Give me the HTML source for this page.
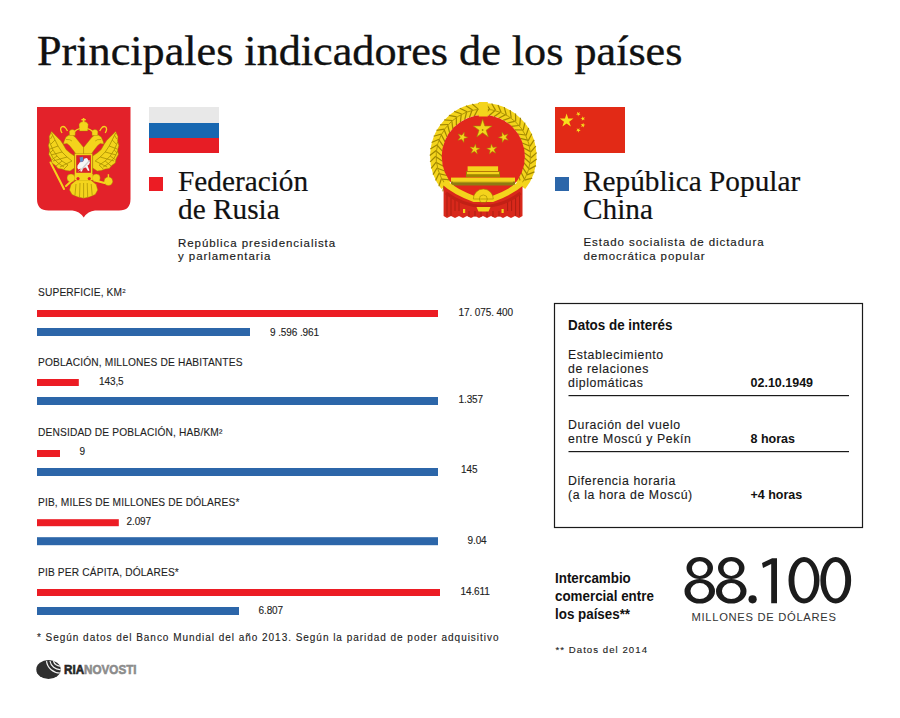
<!DOCTYPE html>
<html><head><meta charset="utf-8"><style>
html,body{margin:0;padding:0;background:#fff;}
body{width:900px;height:718px;position:relative;overflow:hidden;}
.t{position:absolute;white-space:nowrap;}
sup{font-size:60%;vertical-align:0;position:relative;top:-0.45em;}
</style></head><body>
<svg width="900" height="718" viewBox="0 0 900 718" style="position:absolute;left:0;top:0">
<rect x="149" y="107" width="70" height="16" fill="#e8e8e8"/>
<rect x="149" y="123" width="70" height="15" fill="#1767b1"/>
<rect x="149" y="138" width="70" height="15" fill="#e71d25"/>
<rect x="555" y="107" width="70" height="46" fill="#e22a16"/>
<polygon points="566.60,113.60 568.22,118.57 573.45,118.58 569.22,121.65 570.83,126.62 566.60,123.55 562.37,126.62 563.98,121.65 559.75,118.58 564.98,118.57" fill="#f7e01c"/>
<polygon points="577.05,111.73 578.40,112.95 579.97,112.04 579.23,113.70 580.58,114.92 578.78,114.73 578.04,116.39 577.66,114.61 575.85,114.42 577.43,113.51" fill="#f7e01c"/>
<polygon points="582.47,116.14 583.32,117.74 585.11,117.43 583.85,118.73 584.70,120.34 583.07,119.54 581.80,120.85 582.06,119.05 580.42,118.25 582.21,117.94" fill="#f7e01c"/>
<polygon points="583.33,122.74 583.59,124.54 585.38,124.85 583.74,125.65 584.00,127.45 582.73,126.14 581.10,126.94 581.95,125.33 580.69,124.03 582.48,124.34" fill="#f7e01c"/>
<polygon points="579.55,128.03 579.17,129.81 580.75,130.72 578.94,130.91 578.56,132.69 577.82,131.03 576.02,131.22 577.37,130.00 576.63,128.34 578.20,129.25" fill="#f7e01c"/>
<rect x="149" y="177" width="14" height="14" fill="#ec1c24"/>
<rect x="555" y="177" width="14" height="14" fill="#2c66a9"/>

<path d="M37,107 H130.5 V199 Q130.5,210.5 119,210.5 H95 Q88,211 83.7,217.5 Q79.4,211 72.4,210.5 H48.5 Q37,210.5 37,199 Z" fill="#e3222a"/>
<g fill="#f4d41c" stroke="#a08600" stroke-width="0.5">
<path d="M74.5,168 L70,171 L66,170.5 L62,169 L58,168.5 L55.5,165.5 L52,163 L51,158.5 L48.8,154.5 L49.6,150 L48.4,145.5 L49.6,141 L49.2,136.5 L51.6,131.5 L54.5,134.5 L57.5,137.5 L60.5,140.5 L63.2,144.5 L66,149.5 L70,153 L74.5,156 Z"/><path d="M 92.70 168.00 L 97.20 171.00 L 101.20 170.50 L 105.20 169.00 L 109.20 168.50 L 111.70 165.50 L 115.20 163.00 L 116.20 158.50 L 118.40 154.50 L 117.60 150.00 L 118.80 145.50 L 117.60 141.00 L 118.00 136.50 L 115.60 131.50 L 112.70 134.50 L 109.70 137.50 L 106.70 140.50 L 104.00 144.50 L 101.20 149.50 L 97.20 153.00 L 92.70 156.00 Z"/>
</g>
<g fill="none" stroke="#a08600" stroke-width="0.8" opacity="0.9">
<path d="M51.5,133 L55,140 L58,146 L62,152 L67,157 L72,161 M49.5,142 L53,150 L57,156 L62,161 L68,165 M49.5,151 L53,158 L58,163 L64,167 M52.5,135.5 L50.5,139 M55,140 L51,144 M58,146 L50,149 M62,152 L51,155 M67,157 L53,161 M72,161 L60,167 M53,150 L50,153 M57,156 L51.5,160 M62,161 L56,166 M68,165 L64,169"/><path d="M 115.70 133.00 L 112.20 140.00 L 109.20 146.00 L 105.20 152.00 L 100.20 157.00 L 95.20 161.00 M 117.70 142.00 L 114.20 150.00 L 110.20 156.00 L 105.20 161.00 L 99.20 165.00 M 117.70 151.00 L 114.20 158.00 L 109.20 163.00 L 103.20 167.00 M 114.70 135.50 L 116.70 139.00 M 112.20 140.00 L 116.20 144.00 M 109.20 146.00 L 117.20 149.00 M 105.20 152.00 L 116.20 155.00 M 100.20 157.00 L 114.20 161.00 M 95.20 161.00 L 107.20 167.00 M 114.20 150.00 L 117.20 153.00 M 110.20 156.00 L 115.70 160.00 M 105.20 161.00 L 111.20 166.00 M 99.20 165.00 L 103.20 169.00"/>
</g>
<g fill="#f4d41c" stroke="#a08600" stroke-width="0.4">
<path d="M64,141.5 L66,137 L69,135 L72.5,135 L75.5,137.5 L83.6,147.5 L83.6,157 L78,157 L73.5,150.5 L69.5,145.5 L67,143.5 L63.5,144 Z"/><path d="M 103.20 141.50 L 101.20 137.00 L 98.20 135.00 L 94.70 135.00 L 91.70 137.50 L 83.60 147.50 L 83.60 157.00 L 89.20 157.00 L 93.70 150.50 L 97.70 145.50 L 100.20 143.50 L 103.70 144.00 Z"/>
</g>
<g fill="none" stroke="#a08600" stroke-width="0.6"><path d="M66,139.5 Q70,139 72,141"/><path d="M 101.20 139.50 Q 97.20 139.00 95.20 141.00"/></g>
<g fill="#f4d41c" stroke="#a08600" stroke-width="0.4">

<path d="M78,158 Q83.6,150 89.2,158 L89.2,176 L78,176 Z"/>
<path d="M76.5,180 L71,184.5 L69.5,190 L72,194.5 L78,197 L83.6,198.2 L89.2,197 L95.2,194.5 L97.7,190 L96.2,184.5 L90.7,180 Z"/>
<circle cx="71" cy="178" r="4"/><circle cx="96.2" cy="178" r="4"/>
<path d="M79.5,131 L79,124.5 Q80,121.5 83.6,121.5 Q87.2,121.5 88.2,124.5 L87.7,131 Z"/>
<path d="M69.5,135.5 L69.3,131.5 Q70,129.5 72.3,129.5 Q74.6,129.5 75.3,131.5 L75.1,135.5 Z"/><path d="M 97.70 135.50 L 97.90 131.50 Q 97.20 129.50 94.90 129.50 Q 92.60 129.50 91.90 131.50 L 92.10 135.50 Z"/>
<circle cx="108.4" cy="181.2" r="4.3"/>
</g>
<rect x="82.8" y="118" width="1.6" height="4.5" fill="#f4d41c"/>
<rect x="81.4" y="119" width="4.4" height="1.4" fill="#f4d41c"/>
<rect x="107.7" y="174.2" width="1.4" height="3.5" fill="#f4d41c"/>
<g fill="none" stroke="#f4d41c" stroke-width="1.3">
<path d="M62,133 Q59.5,129 61.5,127 Q64,125.5 66,128.5 L67.5,131"/><path d="M 105.20 133.00 Q 107.70 129.00 105.70 127.00 Q 103.20 125.50 101.20 128.50 L 99.70 131.00"/>
<path d="M79.8,128.5 Q76.5,129.5 74.5,131.5"/><path d="M 87.40 128.50 Q 90.70 129.50 92.70 131.50"/>
</g>
<g stroke="#f4d41c" stroke-width="2" stroke-linecap="round">
<line x1="50.5" y1="162.5" x2="64" y2="189"/>
<line x1="66" y1="186" x2="71.5" y2="181"/>
<line x1="97" y1="181" x2="104.5" y2="183"/>
</g>
<g fill="none" stroke="#a08600" stroke-width="0.7" opacity="0.9">
<path d="M76,184 L75,195 M80,183 L79.5,197 M83.6,183 L83.6,198 M87.2,183 L87.7,197 M91.2,184 L92.2,195"/>
</g>
<rect x="74.7" y="153.6" width="17.7" height="20.8" fill="#f4d41c" stroke="#a08600" stroke-width="0.4"/>
<rect x="76.2" y="155.2" width="14.7" height="17.6" fill="#d9232a"/>
<path d="M77.5,165.5 L80,162 L83,161.5 L84.5,158.5 L87,158 L88.5,160.5 L90,162 L89,164.5 L87.5,165.5 L89.5,170.5 L88,171 L86,167.5 L83,168 L82,171.5 L80.5,171.5 L80.5,168.5 L78.5,169.5 L77.3,168 Z" fill="#f6f6f6"/>
<path d="M79.5,157.5 L83,156.8 L83.5,161 L80.5,162.5 Z" fill="#5b8fd0"/>
<path d="M77.5,172 L82,168 L89,160 L90,160.8 L83,169 Z" fill="#cfcfcf"/>
<rect x="74.7" y="174" width="18" height="6" fill="#f4d41c"/>
<circle cx="78" cy="178.6" r="1.6" fill="#e3222a"/><circle cx="89.3" cy="178.6" r="1.6" fill="#e3222a"/>
<path d="M446.11,185.36 A47.2,47.2 0 1,1 520.49,185.36" fill="none" stroke="#f4d41c" stroke-width="12"/>
<line x1="449.7" y1="179.8" x2="442.2" y2="179.1" stroke="#a08600" stroke-width="1.2"/>
<line x1="444.4" y1="183.5" x2="442.9" y2="191.4" stroke="#a08600" stroke-width="1.2"/>
<line x1="447.1" y1="175.5" x2="439.7" y2="173.9" stroke="#a08600" stroke-width="1.2"/>
<line x1="441.4" y1="178.6" x2="438.9" y2="186.2" stroke="#a08600" stroke-width="1.2"/>
<line x1="445.0" y1="171.0" x2="437.9" y2="168.5" stroke="#a08600" stroke-width="1.2"/>
<line x1="439.0" y1="173.3" x2="435.6" y2="180.6" stroke="#a08600" stroke-width="1.2"/>
<line x1="443.5" y1="166.2" x2="436.8" y2="162.8" stroke="#a08600" stroke-width="1.2"/>
<line x1="437.2" y1="167.8" x2="433.0" y2="174.6" stroke="#a08600" stroke-width="1.2"/>
<line x1="442.6" y1="161.3" x2="436.3" y2="157.1" stroke="#a08600" stroke-width="1.2"/>
<line x1="436.2" y1="162.1" x2="431.2" y2="168.3" stroke="#a08600" stroke-width="1.2"/>
<line x1="442.3" y1="156.3" x2="436.6" y2="151.4" stroke="#a08600" stroke-width="1.2"/>
<line x1="435.8" y1="156.3" x2="430.1" y2="161.9" stroke="#a08600" stroke-width="1.2"/>
<line x1="442.6" y1="151.3" x2="437.5" y2="145.7" stroke="#a08600" stroke-width="1.2"/>
<line x1="436.2" y1="150.5" x2="429.8" y2="155.4" stroke="#a08600" stroke-width="1.2"/>
<line x1="443.5" y1="146.4" x2="439.1" y2="140.2" stroke="#a08600" stroke-width="1.2"/>
<line x1="437.2" y1="144.8" x2="430.3" y2="148.9" stroke="#a08600" stroke-width="1.2"/>
<line x1="445.0" y1="141.6" x2="441.4" y2="135.0" stroke="#a08600" stroke-width="1.2"/>
<line x1="439.0" y1="139.3" x2="431.6" y2="142.5" stroke="#a08600" stroke-width="1.2"/>
<line x1="447.1" y1="137.1" x2="444.3" y2="130.0" stroke="#a08600" stroke-width="1.2"/>
<line x1="441.4" y1="134.0" x2="433.7" y2="136.3" stroke="#a08600" stroke-width="1.2"/>
<line x1="449.7" y1="132.8" x2="447.8" y2="125.5" stroke="#a08600" stroke-width="1.2"/>
<line x1="444.4" y1="129.1" x2="436.5" y2="130.4" stroke="#a08600" stroke-width="1.2"/>
<line x1="452.8" y1="128.9" x2="451.9" y2="121.4" stroke="#a08600" stroke-width="1.2"/>
<line x1="448.0" y1="124.5" x2="440.0" y2="124.9" stroke="#a08600" stroke-width="1.2"/>
<line x1="456.4" y1="125.4" x2="456.3" y2="117.8" stroke="#a08600" stroke-width="1.2"/>
<line x1="452.1" y1="120.5" x2="444.2" y2="119.8" stroke="#a08600" stroke-width="1.2"/>
<line x1="460.4" y1="122.3" x2="461.2" y2="114.8" stroke="#a08600" stroke-width="1.2"/>
<line x1="456.7" y1="116.9" x2="448.9" y2="115.3" stroke="#a08600" stroke-width="1.2"/>
<line x1="464.7" y1="119.8" x2="466.5" y2="112.4" stroke="#a08600" stroke-width="1.2"/>
<line x1="461.7" y1="114.0" x2="454.2" y2="111.4" stroke="#a08600" stroke-width="1.2"/>
<line x1="469.3" y1="117.8" x2="471.9" y2="110.7" stroke="#a08600" stroke-width="1.2"/>
<line x1="467.1" y1="111.7" x2="459.8" y2="108.2" stroke="#a08600" stroke-width="1.2"/>
<line x1="474.1" y1="116.4" x2="477.6" y2="109.7" stroke="#a08600" stroke-width="1.2"/>
<line x1="472.6" y1="110.0" x2="465.9" y2="105.7" stroke="#a08600" stroke-width="1.2"/>
<line x1="479.0" y1="115.5" x2="483.3" y2="109.3" stroke="#a08600" stroke-width="1.2"/>
<line x1="478.3" y1="109.1" x2="472.2" y2="104.0" stroke="#a08600" stroke-width="1.2"/>
<line x1="484.0" y1="115.3" x2="489.0" y2="109.7" stroke="#a08600" stroke-width="1.2"/>
<line x1="484.1" y1="108.8" x2="478.6" y2="103.0" stroke="#a08600" stroke-width="1.2"/>
<line x1="489.0" y1="115.7" x2="494.7" y2="110.7" stroke="#a08600" stroke-width="1.2"/>
<line x1="489.9" y1="109.3" x2="485.2" y2="102.8" stroke="#a08600" stroke-width="1.2"/>
<line x1="493.9" y1="116.7" x2="500.1" y2="112.4" stroke="#a08600" stroke-width="1.2"/>
<line x1="495.6" y1="110.4" x2="491.7" y2="103.5" stroke="#a08600" stroke-width="1.2"/>
<line x1="498.7" y1="118.3" x2="505.4" y2="114.8" stroke="#a08600" stroke-width="1.2"/>
<line x1="501.1" y1="112.3" x2="498.0" y2="104.9" stroke="#a08600" stroke-width="1.2"/>
<line x1="503.2" y1="120.4" x2="510.3" y2="117.8" stroke="#a08600" stroke-width="1.2"/>
<line x1="506.3" y1="114.8" x2="504.2" y2="107.1" stroke="#a08600" stroke-width="1.2"/>
<line x1="507.4" y1="123.1" x2="514.7" y2="121.4" stroke="#a08600" stroke-width="1.2"/>
<line x1="511.2" y1="117.9" x2="510.1" y2="110.0" stroke="#a08600" stroke-width="1.2"/>
<line x1="511.3" y1="126.3" x2="518.8" y2="125.5" stroke="#a08600" stroke-width="1.2"/>
<line x1="515.7" y1="121.6" x2="515.5" y2="113.6" stroke="#a08600" stroke-width="1.2"/>
<line x1="514.7" y1="129.9" x2="522.3" y2="130.0" stroke="#a08600" stroke-width="1.2"/>
<line x1="519.7" y1="125.8" x2="520.5" y2="117.8" stroke="#a08600" stroke-width="1.2"/>
<line x1="517.7" y1="134.0" x2="525.2" y2="135.0" stroke="#a08600" stroke-width="1.2"/>
<line x1="523.1" y1="130.4" x2="524.9" y2="122.6" stroke="#a08600" stroke-width="1.2"/>
<line x1="520.2" y1="138.3" x2="527.5" y2="140.2" stroke="#a08600" stroke-width="1.2"/>
<line x1="526.0" y1="135.5" x2="528.7" y2="127.9" stroke="#a08600" stroke-width="1.2"/>
<line x1="522.1" y1="143.0" x2="529.1" y2="145.7" stroke="#a08600" stroke-width="1.2"/>
<line x1="528.2" y1="140.8" x2="531.8" y2="133.7" stroke="#a08600" stroke-width="1.2"/>
<line x1="523.4" y1="147.8" x2="530.0" y2="151.4" stroke="#a08600" stroke-width="1.2"/>
<line x1="529.8" y1="146.4" x2="534.2" y2="139.8" stroke="#a08600" stroke-width="1.2"/>
<line x1="524.1" y1="152.7" x2="530.3" y2="157.1" stroke="#a08600" stroke-width="1.2"/>
<line x1="530.6" y1="152.2" x2="535.8" y2="146.1" stroke="#a08600" stroke-width="1.2"/>
<line x1="524.3" y1="157.7" x2="529.8" y2="162.8" stroke="#a08600" stroke-width="1.2"/>
<line x1="530.8" y1="158.0" x2="536.7" y2="152.6" stroke="#a08600" stroke-width="1.2"/>
<line x1="523.8" y1="162.7" x2="528.7" y2="168.5" stroke="#a08600" stroke-width="1.2"/>
<line x1="530.2" y1="163.7" x2="536.7" y2="159.1" stroke="#a08600" stroke-width="1.2"/>
<line x1="522.7" y1="167.6" x2="526.9" y2="173.9" stroke="#a08600" stroke-width="1.2"/>
<line x1="529.0" y1="169.4" x2="536.0" y2="165.6" stroke="#a08600" stroke-width="1.2"/>
<line x1="521.0" y1="172.3" x2="524.4" y2="179.1" stroke="#a08600" stroke-width="1.2"/>
<line x1="527.0" y1="174.9" x2="534.5" y2="171.9" stroke="#a08600" stroke-width="1.2"/>
<line x1="518.8" y1="176.8" x2="521.3" y2="183.9" stroke="#a08600" stroke-width="1.2"/>
<line x1="524.4" y1="180.1" x2="532.2" y2="178.1" stroke="#a08600" stroke-width="1.2"/>
<path d="M443.6,186 L522.5,186 L522.5,216 L519,218 L515,216 L511,218 L507,216 L503,218 L499,216 L495,218 L491,216 L487,218 L483,216 L479,218 L475,216 L471,218 L467,216 L463,218 L459,216 L455,218 L451,216 L447,218 L443.6,216 Z" fill="#d8281b"/>
<path d="M446.11,185.36 A47.2,47.2 0 1,1 520.49,185.36" fill="none" stroke="#a08600" stroke-width="0.8"/>
<circle cx="483.3" cy="156.6" r="41.6" fill="#e2281c"/>
<rect x="478.8" y="102" width="9" height="14.5" fill="#f4d41c"/>
<polygon points="482.60,119.20 484.80,125.97 491.92,125.97 486.16,130.16 488.36,136.93 482.60,132.74 476.84,136.93 479.04,130.16 473.28,125.97 480.40,125.97" fill="#f4d41c" stroke="#a08600" stroke-width="0.6"/>
<circle cx="482.6" cy="130" r="0.9" fill="#a08600"/>
<polygon points="464.25,132.13 464.11,136.05 467.80,137.39 464.03,138.47 463.89,142.39 461.69,139.14 457.92,140.22 460.34,137.13 458.14,133.88 461.83,135.22" fill="#f4d41c" stroke="#a08600" stroke-width="0.5"/>
<polygon points="501.95,132.13 504.37,135.22 508.06,133.88 505.86,137.13 508.28,140.22 504.51,139.14 502.31,142.39 502.17,138.47 498.40,137.39 502.09,136.05" fill="#f4d41c" stroke="#a08600" stroke-width="0.5"/>
<polygon points="475.55,143.95 476.23,147.82 480.12,148.36 476.65,150.20 477.34,154.07 474.51,151.34 471.05,153.18 472.77,149.66 469.95,146.93 473.83,147.48" fill="#f4d41c" stroke="#a08600" stroke-width="0.5"/>
<polygon points="491.25,143.95 492.97,147.48 496.85,146.93 494.03,149.66 495.75,153.18 492.29,151.34 489.46,154.07 490.15,150.20 486.68,148.36 490.57,147.82" fill="#f4d41c" stroke="#a08600" stroke-width="0.5"/>

<rect x="467.6" y="166.3" width="30.5" height="5" fill="#f4d41c"/>
<rect x="466" y="171.3" width="34" height="6" fill="#a08600"/>
<rect x="467" y="172" width="32" height="2.2" fill="#f4d41c"/>
<rect x="451" y="177.6" width="64" height="6" fill="#f4d41c"/>
<rect x="451" y="181.5" width="64" height="4" fill="#8f7a12"/>
<rect x="453" y="181" width="60" height="1.5" fill="#f4d41c" opacity="0.6"/>
<g stroke="#a81d12" stroke-width="0.9">
<line x1="447" y1="195" x2="447" y2="216"/><line x1="451" y1="198" x2="451" y2="216"/><line x1="455" y1="200" x2="455" y2="211"/><line x1="459" y1="202" x2="459" y2="211"/>
<line x1="519.6" y1="195" x2="519.6" y2="216"/><line x1="515.6" y1="198" x2="515.6" y2="216"/><line x1="511.6" y1="200" x2="511.6" y2="211"/><line x1="507.6" y1="202" x2="507.6" y2="211"/>
<line x1="469" y1="211" x2="469" y2="217"/><line x1="475" y1="211" x2="475" y2="217"/><line x1="481" y1="211" x2="481" y2="217"/><line x1="487" y1="211" x2="487" y2="217"/><line x1="493" y1="211" x2="493" y2="217"/><line x1="499" y1="211" x2="499" y2="217"/>
</g>
<path d="M446,193 Q463,206 483.4,206.5 Q503.6,206 520.6,193" fill="none" stroke="#c22015" stroke-width="3"/>

<path d="M444.11,182.36 Q455,192 474,199 L492.6,199 Q511.6,192 522.49,182.36" fill="none" stroke="#f4d41c" stroke-width="6"/>

<path d="M473.3,199 A10,10 0 0 1 493.3,199 Z" fill="#f4d41c" stroke="#a08600" stroke-width="0.6"/>
<circle cx="483.3" cy="199" r="4" fill="none" stroke="#a08600" stroke-width="0.6"/>
<path d="M476.5,207 L490.5,207 L488.5,211.5 L478.5,211.5 Z" fill="#f4d41c"/>
<rect x="463" y="209" width="2.2" height="4" fill="#f4d41c"/><rect x="501.5" y="209" width="2.2" height="4" fill="#f4d41c"/>

<rect x="554.5" y="303.5" width="308" height="224" fill="none" stroke="#1a1a1a" stroke-width="1.2"/>
<rect x="568.5" y="395" width="280.5" height="1.2" fill="#1a1a1a"/>
<rect x="568.5" y="451" width="280.5" height="1.2" fill="#1a1a1a"/>

<ellipse cx="48.5" cy="669.5" rx="12.2" ry="9.5" fill="#2e2e2e"/>
<g fill="none" stroke="#f2f2f2" stroke-width="1.2">
<path d="M46.5,661.2 A13.5,13.5 0 0 0 60.4,673"/>
<path d="M50,661 A10,10 0 0 0 60.6,669.5"/>
<path d="M53.5,661 A6.5,6.5 0 0 0 60.6,666"/>
</g>
<text x="64" y="673.8" font-family="Liberation Sans" font-weight="bold" font-size="12.7" stroke-width="0.6" textLength="72.6" lengthAdjust="spacingAndGlyphs"><tspan fill="#252525" stroke="#252525">RIA</tspan><tspan fill="#8c8c8c" stroke="#8c8c8c">NOVOSTI</tspan></text>
<g fill="#1c1c1c">
<path fill-rule="evenodd" d="M686.5,568 a13.25,11 0 1,0 26.5,0 a13.25,11 0 1,0 -26.5,0 Z M692.0,568.6 a7.75,7.4 0 1,0 15.5,0 a7.75,7.4 0 1,0 -15.5,0 Z"/>
<path fill-rule="evenodd" d="M684.5,591.2 a15.25,12.3 0 1,0 30.5,0 a15.25,12.3 0 1,0 -30.5,0 Z M690.45,591.1 a9.3,8.0 0 1,0 18.6,0 a9.3,8.0 0 1,0 -18.6,0 Z"/>
<path fill-rule="evenodd" d="M718.0,568 a13.25,11 0 1,0 26.5,0 a13.25,11 0 1,0 -26.5,0 Z M723.5,568.6 a7.75,7.4 0 1,0 15.5,0 a7.75,7.4 0 1,0 -15.5,0 Z"/>
<path fill-rule="evenodd" d="M716.0,591.2 a15.25,12.3 0 1,0 30.5,0 a15.25,12.3 0 1,0 -30.5,0 Z M721.95,591.1 a9.3,8.0 0 1,0 18.6,0 a9.3,8.0 0 1,0 -18.6,0 Z"/>
<path fill-rule="evenodd" d="M788.5,580.25 a15.5,23.25 0 1,0 31.0,0 a15.5,23.25 0 1,0 -31.0,0 Z M794.4000000000001,580.25 a9.8,18.3 0 1,0 19.6,0 a9.8,18.3 0 1,0 -19.6,0 Z"/>
<path fill-rule="evenodd" d="M820.35,580.25 a15.4,23.25 0 1,0 30.8,0 a15.4,23.25 0 1,0 -30.8,0 Z M826.0,580.25 a9.6,18.3 0 1,0 19.2,0 a9.6,18.3 0 1,0 -19.2,0 Z"/>
<circle cx="752.6" cy="599.3" r="4.1"/>
<polygon points="777,558.2 777,603.2 771.2,603.2 771.2,564 763,567.9 762,563.1 772.1,558.2"/></g><rect x="37" y="310" width="401" height="7" fill="#ec1c24"/><rect x="37" y="328" width="213" height="8" fill="#2c66a9"/><rect x="37" y="379" width="41.8" height="7" fill="#ec1c24"/><rect x="37" y="397" width="401" height="8" fill="#2c66a9"/><rect x="37" y="450" width="23" height="7" fill="#ec1c24"/><rect x="37" y="468" width="401" height="8" fill="#2c66a9"/><rect x="37" y="519.2" width="81.8" height="7" fill="#ec1c24"/><rect x="37" y="537.2" width="401" height="8" fill="#2c66a9"/><rect x="37" y="589" width="403" height="7" fill="#ec1c24"/><rect x="37" y="607" width="202" height="8" fill="#2c66a9"/></svg>
<div class="t" style="left:37px;top:25.62px;font-family:'Liberation Serif',sans-serif;font-size:42px;line-height:50.4px;font-weight:400;letter-spacing:0px;color:#111;-webkit-text-stroke:0.35px #111;transform-origin:0 0;transform:scaleX(1.052);">Principales indicadores de los países</div>
<div class="t" style="left:177.5px;top:164.01px;font-family:'Liberation Serif',sans-serif;font-size:29px;line-height:34.8px;font-weight:400;letter-spacing:0px;color:#111;-webkit-text-stroke:0.2px #111;transform-origin:0 0;transform:scaleX(1.01);">Federación</div>
<div class="t" style="left:177.5px;top:192.21px;font-family:'Liberation Serif',sans-serif;font-size:29px;line-height:34.8px;font-weight:400;letter-spacing:0px;color:#111;-webkit-text-stroke:0.2px #111;transform-origin:0 0;transform:scaleX(1.01);">de Rusia</div>
<div class="t" style="left:583px;top:163.81px;font-family:'Liberation Serif',sans-serif;font-size:29px;line-height:34.8px;font-weight:400;letter-spacing:0px;color:#111;-webkit-text-stroke:0.2px #111;transform-origin:0 0;transform:scaleX(1.01);">República Popular</div>
<div class="t" style="left:583px;top:191.81px;font-family:'Liberation Serif',sans-serif;font-size:29px;line-height:34.8px;font-weight:400;letter-spacing:0px;color:#111;-webkit-text-stroke:0.2px #111;transform-origin:0 0;transform:scaleX(1.01);">China</div>
<div class="t" style="left:178px;top:236.62px;font-family:'Liberation Sans',sans-serif;font-size:11.5px;line-height:13.8px;font-weight:400;letter-spacing:0.94px;color:#1a1a1a;-webkit-text-stroke:0.16px #1a1a1a;transform-origin:0 0;transform:scaleX(1);">República presidencialista</div>
<div class="t" style="left:178px;top:250.12px;font-family:'Liberation Sans',sans-serif;font-size:11.5px;line-height:13.8px;font-weight:400;letter-spacing:0.94px;color:#1a1a1a;-webkit-text-stroke:0.16px #1a1a1a;transform-origin:0 0;transform:scaleX(1);">y parlamentaria</div>
<div class="t" style="left:583.5px;top:236.12px;font-family:'Liberation Sans',sans-serif;font-size:11.5px;line-height:13.8px;font-weight:400;letter-spacing:0.94px;color:#1a1a1a;-webkit-text-stroke:0.16px #1a1a1a;transform-origin:0 0;transform:scaleX(1);">Estado socialista de dictadura</div>
<div class="t" style="left:583.5px;top:249.62px;font-family:'Liberation Sans',sans-serif;font-size:11.5px;line-height:13.8px;font-weight:400;letter-spacing:0.94px;color:#1a1a1a;-webkit-text-stroke:0.16px #1a1a1a;transform-origin:0 0;transform:scaleX(1);">democrática popular</div>
<div class="t" style="left:38px;top:286.65px;font-family:'Liberation Sans',sans-serif;font-size:10.2px;line-height:12.24px;font-weight:400;letter-spacing:0.15px;color:#1e1e1e;-webkit-text-stroke:0.1px #1e1e1e;transform-origin:0 0;transform:scaleX(1);">SUPERFICIE, KM<sup>2</sup></div>
<div class="t" style="left:458.5px;top:306.84px;font-family:'Liberation Sans',sans-serif;font-size:10px;line-height:12.0px;font-weight:400;letter-spacing:-0.1px;color:#222;-webkit-text-stroke:0.12px #222;transform-origin:0 0;transform:scaleX(1);">17. 075. 400</div>
<div class="t" style="left:270px;top:327.24px;font-family:'Liberation Sans',sans-serif;font-size:10px;line-height:12.0px;font-weight:400;letter-spacing:-0.1px;color:#222;-webkit-text-stroke:0.12px #222;transform-origin:0 0;transform:scaleX(1);">9 .596 .961</div>
<div class="t" style="left:38px;top:357.35px;font-family:'Liberation Sans',sans-serif;font-size:10.2px;line-height:12.24px;font-weight:400;letter-spacing:0.15px;color:#1e1e1e;-webkit-text-stroke:0.1px #1e1e1e;transform-origin:0 0;transform:scaleX(1);">POBLACIÓN, MILLONES DE HABITANTES</div>
<div class="t" style="left:99px;top:375.54px;font-family:'Liberation Sans',sans-serif;font-size:10px;line-height:12.0px;font-weight:400;letter-spacing:-0.1px;color:#222;-webkit-text-stroke:0.12px #222;transform-origin:0 0;transform:scaleX(1);">143,5</div>
<div class="t" style="left:458.5px;top:394.34px;font-family:'Liberation Sans',sans-serif;font-size:10px;line-height:12.0px;font-weight:400;letter-spacing:-0.1px;color:#222;-webkit-text-stroke:0.12px #222;transform-origin:0 0;transform:scaleX(1);">1.357</div>
<div class="t" style="left:38px;top:426.65px;font-family:'Liberation Sans',sans-serif;font-size:10.2px;line-height:12.24px;font-weight:400;letter-spacing:0.15px;color:#1e1e1e;-webkit-text-stroke:0.1px #1e1e1e;transform-origin:0 0;transform:scaleX(1);">DENSIDAD DE POBLACIÓN, HAB/KM²</div>
<div class="t" style="left:79.5px;top:446.04px;font-family:'Liberation Sans',sans-serif;font-size:10px;line-height:12.0px;font-weight:400;letter-spacing:-0.1px;color:#222;-webkit-text-stroke:0.12px #222;transform-origin:0 0;transform:scaleX(1);">9</div>
<div class="t" style="left:461px;top:464.34px;font-family:'Liberation Sans',sans-serif;font-size:10px;line-height:12.0px;font-weight:400;letter-spacing:-0.1px;color:#222;-webkit-text-stroke:0.12px #222;transform-origin:0 0;transform:scaleX(1);">145</div>
<div class="t" style="left:38px;top:497.15px;font-family:'Liberation Sans',sans-serif;font-size:10.2px;line-height:12.24px;font-weight:400;letter-spacing:0.15px;color:#1e1e1e;-webkit-text-stroke:0.1px #1e1e1e;transform-origin:0 0;transform:scaleX(1);">PIB, MILES DE MILLONES DE DÓLARES*</div>
<div class="t" style="left:126.5px;top:516.03px;font-family:'Liberation Sans',sans-serif;font-size:10px;line-height:12.0px;font-weight:400;letter-spacing:-0.1px;color:#222;-webkit-text-stroke:0.12px #222;transform-origin:0 0;transform:scaleX(1);">2.097</div>
<div class="t" style="left:467.5px;top:535.03px;font-family:'Liberation Sans',sans-serif;font-size:10px;line-height:12.0px;font-weight:400;letter-spacing:-0.1px;color:#222;-webkit-text-stroke:0.12px #222;transform-origin:0 0;transform:scaleX(1);">9.04</div>
<div class="t" style="left:38px;top:566.65px;font-family:'Liberation Sans',sans-serif;font-size:10.2px;line-height:12.24px;font-weight:400;letter-spacing:0.15px;color:#1e1e1e;-webkit-text-stroke:0.1px #1e1e1e;transform-origin:0 0;transform:scaleX(1);">PIB PER CÁPITA, DÓLARES*</div>
<div class="t" style="left:460.5px;top:586.33px;font-family:'Liberation Sans',sans-serif;font-size:10px;line-height:12.0px;font-weight:400;letter-spacing:-0.1px;color:#222;-webkit-text-stroke:0.12px #222;transform-origin:0 0;transform:scaleX(1);">14.611</div>
<div class="t" style="left:258.5px;top:604.53px;font-family:'Liberation Sans',sans-serif;font-size:10px;line-height:12.0px;font-weight:400;letter-spacing:-0.1px;color:#222;-webkit-text-stroke:0.12px #222;transform-origin:0 0;transform:scaleX(1);">6.807</div>
<div class="t" style="left:37px;top:631.83px;font-family:'Liberation Sans',sans-serif;font-size:10px;line-height:12.0px;font-weight:400;letter-spacing:0.97px;color:#222;-webkit-text-stroke:0.12px #222;transform-origin:0 0;transform:scaleX(1);">* Según datos del Banco Mundial del año 2013. Según la paridad de poder adquisitivo</div>
<div class="t" style="left:568px;top:316.98px;font-family:'Liberation Sans',sans-serif;font-size:14.5px;line-height:17.4px;font-weight:700;letter-spacing:0px;color:#111;-webkit-text-stroke:0.0px #111;transform-origin:0 0;transform:scaleX(0.925);">Datos de interés</div>
<div class="t" style="left:568px;top:347.56px;font-family:'Liberation Sans',sans-serif;font-size:12.3px;line-height:14.76px;font-weight:400;letter-spacing:0.6px;color:#1a1a1a;-webkit-text-stroke:0.12px #1a1a1a;transform-origin:0 0;transform:scaleX(1);">Establecimiento</div>
<div class="t" style="left:568px;top:361.96px;font-family:'Liberation Sans',sans-serif;font-size:12.3px;line-height:14.76px;font-weight:400;letter-spacing:0.6px;color:#1a1a1a;-webkit-text-stroke:0.12px #1a1a1a;transform-origin:0 0;transform:scaleX(1);">de relaciones</div>
<div class="t" style="left:568px;top:375.76px;font-family:'Liberation Sans',sans-serif;font-size:12.3px;line-height:14.76px;font-weight:400;letter-spacing:0.6px;color:#1a1a1a;-webkit-text-stroke:0.12px #1a1a1a;transform-origin:0 0;transform:scaleX(1);">diplomáticas</div>
<div class="t" style="left:750.5px;top:375.87px;font-family:'Liberation Sans',sans-serif;font-size:12.5px;line-height:15.0px;font-weight:700;letter-spacing:0px;color:#111;-webkit-text-stroke:0.0px #111;transform-origin:0 0;transform:scaleX(1);">02.10.1949</div>
<div class="t" style="left:568px;top:418.06px;font-family:'Liberation Sans',sans-serif;font-size:12.3px;line-height:14.76px;font-weight:400;letter-spacing:0.6px;color:#1a1a1a;-webkit-text-stroke:0.12px #1a1a1a;transform-origin:0 0;transform:scaleX(1);">Duración del vuelo</div>
<div class="t" style="left:568px;top:432.16px;font-family:'Liberation Sans',sans-serif;font-size:12.3px;line-height:14.76px;font-weight:400;letter-spacing:0.6px;color:#1a1a1a;-webkit-text-stroke:0.12px #1a1a1a;transform-origin:0 0;transform:scaleX(1);">entre Moscú y Pekín</div>
<div class="t" style="left:750.5px;top:431.97px;font-family:'Liberation Sans',sans-serif;font-size:12.5px;line-height:15.0px;font-weight:700;letter-spacing:0px;color:#111;-webkit-text-stroke:0.0px #111;transform-origin:0 0;transform:scaleX(1);">8 horas</div>
<div class="t" style="left:568px;top:474.16px;font-family:'Liberation Sans',sans-serif;font-size:12.3px;line-height:14.76px;font-weight:400;letter-spacing:0.6px;color:#1a1a1a;-webkit-text-stroke:0.12px #1a1a1a;transform-origin:0 0;transform:scaleX(1);">Diferencia horaria</div>
<div class="t" style="left:568px;top:488.26px;font-family:'Liberation Sans',sans-serif;font-size:12.3px;line-height:14.76px;font-weight:400;letter-spacing:0.6px;color:#1a1a1a;-webkit-text-stroke:0.12px #1a1a1a;transform-origin:0 0;transform:scaleX(1);">(a la hora de Moscú)</div>
<div class="t" style="left:750.5px;top:488.07px;font-family:'Liberation Sans',sans-serif;font-size:12.5px;line-height:15.0px;font-weight:700;letter-spacing:0px;color:#111;-webkit-text-stroke:0.0px #111;transform-origin:0 0;transform:scaleX(1);">+4 horas</div>
<div class="t" style="left:554.8px;top:569.95px;font-family:'Liberation Sans',sans-serif;font-size:14px;line-height:16.8px;font-weight:700;letter-spacing:0px;color:#111;-webkit-text-stroke:0.0px #111;transform-origin:0 0;transform:scaleX(0.955);">Intercambio</div>
<div class="t" style="left:554.8px;top:588.15px;font-family:'Liberation Sans',sans-serif;font-size:14px;line-height:16.8px;font-weight:700;letter-spacing:0px;color:#111;-webkit-text-stroke:0.0px #111;transform-origin:0 0;transform:scaleX(0.955);">comercial entre</div>
<div class="t" style="left:554.8px;top:606.45px;font-family:'Liberation Sans',sans-serif;font-size:14px;line-height:16.8px;font-weight:700;letter-spacing:0px;color:#111;-webkit-text-stroke:0.0px #111;transform-origin:0 0;transform:scaleX(0.955);">los países**</div>
<div class="t" style="left:555.5px;top:643.91px;font-family:'Liberation Sans',sans-serif;font-size:9.6px;line-height:11.52px;font-weight:400;letter-spacing:1.05px;color:#222;-webkit-text-stroke:0.12px #222;transform-origin:0 0;transform:scaleX(1);">** Datos del 2014</div>
<div class="t" style="left:691.5px;top:611.20px;font-family:'Liberation Sans',sans-serif;font-size:11.2px;line-height:13.44px;font-weight:400;letter-spacing:0.7px;color:#333;-webkit-text-stroke:0.01px #333;transform-origin:0 0;transform:scaleX(1);">MILLONES DE DÓLARES</div>
</body></html>
